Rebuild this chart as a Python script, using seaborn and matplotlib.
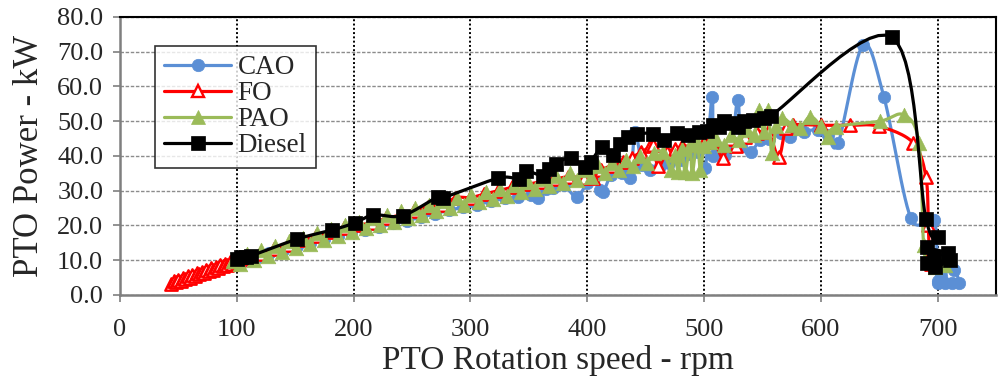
import numpy as np
import pandas as pd
import seaborn as sns
import matplotlib
matplotlib.use("Agg")
import matplotlib.pyplot as plt
from matplotlib.lines import Line2D

# ---- measured PTO data (rotation speed in rpm, power in kW) ----
cao_rpm = [55, 62, 70, 78, 86, 94, 100, 108, 118, 128, 140, 152, 163, 175, 187, 198,
           210, 222, 234, 246, 258, 270, 282, 294, 306, 318, 330, 341, 352, 358, 365,
           371, 380, 391, 400, 406, 411, 414, 420, 425, 430, 437, 441, 447, 454, 462,
           470, 480, 488, 495, 501, 507, 508, 513, 518, 524, 529, 532, 540, 548, 556,
           566, 574, 586, 598, 606, 615, 636, 654, 677, 697, 700, 706, 712, 718, 714,
           703, 700]
cao_kw = [4.3, 5.0, 5.9, 6.8, 7.6, 8.6, 9.3, 10.0, 11.0, 12.0, 13.0, 14.2, 15.0, 16.0,
          17.0, 18.2, 18.8, 19.5, 20.6, 21.4, 22.4, 23.4, 24.4, 25.2, 26.0, 27.0, 27.8,
          28.2, 28.8, 27.9, 30.5, 30.8, 31.5, 28.2, 32.2, 33.5, 30.3, 29.7, 34.5, 36.0,
          35.2, 33.7, 46.8, 37.5, 36.0, 37.0, 38.0, 38.9, 40.5, 41.0, 36.6, 57.0, 40.0,
          42.0, 40.3, 44.0, 56.2, 43.0, 41.2, 44.5, 45.0, 46.5, 45.5, 47.0, 47.5, 46.0,
          43.8, 71.8, 57.0, 22.2, 21.6, 3.4, 3.3, 3.5, 3.4, 7.2, 5.5, 4.0]

fo_rpm = [44, 46, 48, 50, 52, 54, 56, 58, 60, 62, 64, 66, 68, 70, 72, 74, 76, 78, 80,
          82, 84, 86, 88, 90, 92, 94, 96, 98, 100, 102,
          110, 120, 132, 144, 156, 168, 180, 192, 204, 216, 228, 240, 252, 264,
          276, 288, 300, 312, 324, 336, 348, 360, 372, 384, 397, 405, 412, 420, 431,
          438, 446, 454, 456, 461, 468, 475, 481, 490, 500, 508, 516, 522, 527, 535,
          545, 555, 564, 570, 576, 600, 625, 650, 679, 690, 692, 693, 694, 698]
fo_kw = [3.2, 3.9, 3.6, 4.4, 4.1, 4.9, 4.5, 5.3, 5.0, 5.8, 5.5, 6.3, 5.9, 6.7, 6.4,
         7.2, 6.8, 7.6, 7.3, 8.1, 7.7, 8.5, 8.2, 9.0, 8.6, 9.4, 9.0, 9.8, 9.5, 10.1,
         10.6, 11.8, 13.1, 14.4, 15.8, 17.0, 18.1, 19.2, 20.0,
         20.8, 22.0, 23.0, 24.2, 25.3, 26.0, 28.0, 28.0, 29.0, 30.0, 31.0, 31.8, 32.5,
         33.3, 34.0, 33.7, 33.7, 36.0, 37.0, 38.3, 39.5, 41.0, 42.7, 43.2, 37.0, 41.0,
         42.0, 42.7, 43.0, 44.0, 44.5, 39.5, 45.0, 42.7, 45.5, 46.5, 47.0, 39.8, 48.0,
         49.0, 48.8, 48.8, 48.5, 43.8, 34.0, 20.0, 11.0, 9.0, 8.5]

pao_rpm = [97, 103, 109, 115, 121, 127, 133, 139, 145, 151, 157, 163, 169, 175, 181,
           187, 193, 199, 205, 211, 217, 223, 229, 235, 241, 247, 253, 259, 265, 271,
           277, 283, 289, 295, 301, 307, 313, 319, 325, 331, 337, 343, 349, 355, 361,
           367, 373, 379, 385, 391, 397, 403, 409, 415, 421, 427, 433, 439, 445, 451,
           457, 465, 472, 475, 478, 481, 484, 488, 490, 494, 497, 500, 505,
           510, 517, 523, 530, 537, 543, 547, 551, 555, 558, 562, 567, 575, 582, 591,
           600, 606, 613, 651, 671, 684, 688, 692, 698, 703, 706, 700]
pao_kw = [9.9, 8.9, 11.9, 10.0, 13.0, 11.2, 14.2, 12.4, 15.4, 13.5, 16.5, 14.7, 17.7,
          15.9, 18.9, 17.0, 20.0, 18.2, 21.1, 19.2, 22.1, 20.1, 23.0, 21.1, 24.0, 22.1,
          24.9, 23.0, 25.9, 24.0, 26.9, 24.9, 27.8, 25.9, 28.8, 26.8, 29.7, 27.7, 30.6,
          28.6, 31.5, 29.5, 32.4, 30.4, 33.3, 31.3, 34.2, 32.2, 35.1, 33.1, 36.0, 34.0,
          37.0, 35.0, 37.9, 36.0, 38.9, 37.0, 39.9, 38.0, 40.9,
          41.0, 36.0, 40.3, 35.5, 42.0, 35.4, 43.0, 35.0, 44.0, 36.0, 42.7, 44.0,
          45.0, 43.0, 46.0, 44.5, 47.5, 46.0, 53.3, 47.0, 53.3, 40.9, 48.5, 51.0, 49.0,
          48.0, 51.3, 48.5, 45.5, 48.4, 50.0, 51.8, 43.8, 14.4, 9.5, 8.0, 9.0, 8.5, 10.0]

diesel_rpm = [100, 104, 108, 112, 152, 182, 201, 217, 242, 272, 277, 324, 342, 348,
              362, 367, 373, 386, 398, 403, 413, 422, 428, 435, 443, 456, 466, 477,
              486, 496, 503, 508, 513, 517, 523, 529, 534, 542, 551, 557, 661, 690,
              700, 691, 709, 697, 691, 711, 698]
diesel_kw = [10.2, 10.8, 11.0, 11.2, 16.1, 18.7, 20.7, 23.0, 22.8, 28.2, 28.0, 33.6,
             33.4, 35.6, 34.3, 36.2, 37.7, 39.5, 36.8, 38.3, 42.5, 40.3, 43.5, 45.3,
             46.3, 46.4, 44.5, 46.5, 46.0, 46.9, 47.2, 49.0, 48.4, 50.0, 49.5, 48.2,
             50.0, 50.4, 51.0, 51.5, 74.1, 21.9, 16.7, 13.8, 12.1, 11.0, 9.2, 10.0, 8.0]

x_ticks = [0, 100, 200, 300, 400, 500, 600, 700]
y_ticks = [0, 10, 20, 30, 40, 50, 60, 70, 80]


def smooth(xs, ys, n=14):
    """Catmull-Rom curve through the points (smoothed line style)."""
    p = np.column_stack([xs, ys]).astype(float)
    m = len(p)
    tang = np.zeros_like(p)
    tang[1:-1] = (p[2:] - p[:-2]) / 2.0
    tang[0] = p[1] - p[0]
    tang[-1] = p[-1] - p[-2]
    t = np.linspace(0, 1, n, endpoint=False)
    h00 = 2 * t**3 - 3 * t**2 + 1
    h10 = t**3 - 2 * t**2 + t
    h01 = -2 * t**3 + 3 * t**2
    h11 = t**3 - t**2
    out = []
    for i in range(m - 1):
        seg = (h00[:, None] * p[i] + h10[:, None] * tang[i]
               + h01[:, None] * p[i + 1] + h11[:, None] * tang[i + 1])
        out.append(seg)
    out.append(p[-1:])
    out = np.vstack(out)
    return out[:, 0], out[:, 1]


sns.set_style("ticks")
plt.rcParams["font.family"] = ["Liberation Serif", "DejaVu Serif"]

fig, ax = plt.subplots(figsize=(9.99, 3.83), dpi=100)
fig.subplots_adjust(left=0.120, right=0.997, top=0.956, bottom=0.230)

series = [
    ("CAO", cao_rpm, cao_kw, "#5B8FD5", dict(marker="o", s=80, facecolor="#5B8FD5",
                                          edgecolor="#5B8FD5", linewidth=0.5)),
    ("FO", fo_rpm, fo_kw, "#FF0000", dict(marker="^", s=80, facecolor="white",
                                       edgecolor="#FF0000", linewidth=1.7)),
    ("PAO", pao_rpm, pao_kw, "#9BBB59", dict(marker="^", s=110, facecolor="#9BBB59",
                                          edgecolor="#9BBB59", linewidth=0.5)),
    ("Diesel", diesel_rpm, diesel_kw, "#000000", dict(marker="s", s=90, facecolor="black",
                                                   edgecolor="black", linewidth=0.5)),
]

z = 3
for name, xs, ys, col, mk in series:
    sx, sy = smooth(xs, ys)
    curve = pd.DataFrame({"rpm": sx, "kw": sy})
    sns.lineplot(data=curve, x="rpm", y="kw", sort=False, estimator=None, color=col,
                 lw=2.3, ax=ax, zorder=z)
    pts = pd.DataFrame({"rpm": xs, "kw": ys})
    sns.scatterplot(data=pts, x="rpm", y="kw", ax=ax, zorder=z + 1, legend=False, **mk)
    z += 2

ax.set_xlim(0, 750)
ax.set_ylim(0, 80)
ax.set_xticks(x_ticks)
ax.set_yticks(y_ticks)
ax.set_yticklabels([f"{v:.1f}" for v in y_ticks])
ax.tick_params(axis="both", labelsize=19, length=5, color="#7f7f7f", width=1.2)
ax.tick_params(axis="x", pad=12)
ax.tick_params(axis="y", pad=7)

ax.xaxis.grid(True, color="black", linestyle=(0, (1, 1.2)), lw=1.4)
ax.yaxis.grid(True, color="#8c8c8c", linestyle=(0, (2.5, 1.2)), lw=1.0)
ax.set_axisbelow(True)
for side in ("top", "right"):
    ax.spines[side].set_color("black")
    ax.spines[side].set_linewidth(1.5)
for side in ("left", "bottom"):
    ax.spines[side].set_color("#7f7f7f")
    ax.spines[side].set_linewidth(1.8)

ax.set_xlabel("PTO Rotation speed - rpm", fontsize=24, labelpad=3)
ax.set_ylabel("PTO Power - kW", fontsize=25, labelpad=8)

handles = []
for name, xs, ys, col, mk in series:
    handles.append(Line2D([], [], color=col, lw=2.3, marker=mk["marker"],
                          markersize=np.sqrt(mk["s"]), markerfacecolor=mk["facecolor"],
                          markeredgecolor=mk["edgecolor"],
                          markeredgewidth=mk["linewidth"] if name == "FO" else 0.5,
                          label=name))
leg = ax.legend(handles=handles, loc="upper left", bbox_to_anchor=(0.04, 0.896),
                borderaxespad=0, fontsize=19.5, frameon=True, fancybox=False,
                edgecolor="black", handlelength=2.45, handletextpad=0.25,
                labelspacing=0.04, borderpad=0.35, numpoints=1)
leg.get_frame().set_linewidth(1.2)
leg.set_zorder(20)

fig.savefig("out.png", dpi=100)
